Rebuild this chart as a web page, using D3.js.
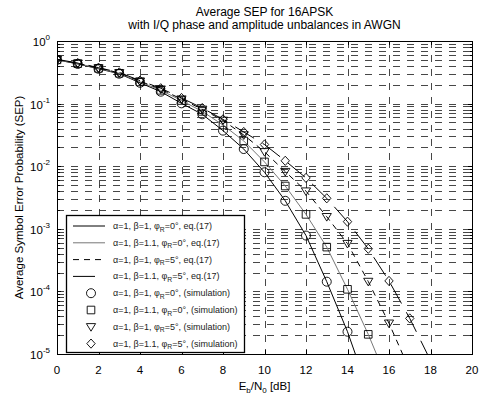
<!DOCTYPE html>
<html>
<head>
<meta charset="utf-8">
<script src="https://cdn.jsdelivr.net/npm/d3@7"></script>
<style>
    body { margin: 0; background: #fff; }
    svg { display: block; font-family: "Liberation Sans", Arial, sans-serif; }
</style>
</head>
<body>
<div id="chart"></div>
<script>
// Eb/N0 values (dB)
var ebno = [0, 1, 2, 3, 4, 5, 6, 7, 8, 9, 10, 11, 12, 13, 14, 15, 16, 17, 18];

// eq.(17) curves
var sepTheoryA = [0.50, 0.43, 0.36, 0.30, 0.215, 0.155, 0.101, 0.0675, 0.037, 0.0188, 0.0080, 0.0028, 0.00078, 1.43e-4, 2.27e-5, 2.6e-6];
var sepTheoryB = [0.50, 0.435, 0.365, 0.305, 0.222, 0.163, 0.112, 0.075, 0.0455, 0.0253, 0.0117, 0.00483, 0.0017, 5.1e-4, 1.08e-4, 2.06e-5, 3.3e-6];
var sepTheoryC = [0.505, 0.44, 0.37, 0.31, 0.228, 0.17, 0.118, 0.081, 0.054, 0.0315, 0.017, 0.0082, 0.0040, 0.00156, 5.8e-4, 1.44e-4, 3.1e-5, 5.5e-6];
var sepTheoryD = [0.51, 0.445, 0.375, 0.315, 0.233, 0.176, 0.123, 0.085, 0.056, 0.0352, 0.0222, 0.0122, 0.0065, 0.00307, 0.0013, 4.8e-4, 1.47e-4, 3.7e-5, 7.9e-6];

// simulation points
var sepSimA = [0.50, 0.43, 0.36, 0.30, 0.215, 0.155, 0.101, 0.0675, 0.037, 0.0188, 0.0080, 0.0028, 0.00078, 1.43e-4, 2.27e-5];
var sepSimB = [0.50, 0.435, 0.365, 0.305, 0.222, 0.163, 0.112, 0.075, 0.0455, 0.0253, 0.0117, 0.00483, 0.0017, 5.1e-4, 1.08e-4, 2.06e-5];
var sepSimC = [0.505, 0.44, 0.37, 0.31, 0.228, 0.17, 0.118, 0.081, 0.054, 0.0315, 0.017, 0.0082, 0.0040, 0.00156, 5.8e-4, 1.44e-4, 3.1e-5];
var sepSimD = [0.51, 0.445, 0.375, 0.315, 0.233, 0.176, 0.123, 0.085, 0.056, 0.0352, 0.0222, 0.0122, 0.0065, 0.00307, 0.0013, 4.8e-4, 1.47e-4, 3.7e-5];

var xTicks = [0, 2, 4, 6, 8, 10, 12, 14, 16, 18, 20];
var yDecades = [0, -1, -2, -3, -4, -5];

var theoryLabels = [
    ["α=1, β=1, ", "0", ", eq.(17)"],
    ["α=1, β=1.1, ", "0", ", eq.(17)"],
    ["α=1, β=1, ", "5", ", eq.(17)"],
    ["α=1, β=1.1, ", "5", ", eq.(17)"]
];
var simLabels = [
    ["α=1, β=1, ", "0", ", (simulation)"],
    ["α=1, β=1.1, ", "0", ", (simulation)"],
    ["α=1, β=1, ", "5", ", (simulation)"],
    ["α=1, β=1.1, ", "5", ", (simulation)"]
];

var W = 483, H = 398;
var margin = {top: 41, right: 11, bottom: 44, left: 57},
    width = W - margin.left - margin.right,
    height = H - margin.top - margin.bottom;

var svg = d3.select("#chart")
    .append("svg")
    .attr("width", W)
    .attr("height", H);

var x = d3.scaleLinear().domain([0, 20]).range([margin.left, margin.left + width]);
var y = d3.scaleLog().domain([1e-5, 1]).range([margin.top + height, margin.top]);

// grid (major + minor, dashed like matlab)
var gridVals = [];
for (var e = -5; e < 0; e++) {
    for (var k = 1; k <= 9; k++) {
        var v = k * Math.pow(10, e);
        if (v > 1e-5) gridVals.push(v);
    }
}
var grid = svg.append("g")
    .attr("stroke", "#333")
    .attr("stroke-width", 0.9)
    .attr("stroke-dasharray", "7,7")
    .attr("shape-rendering", "crispEdges");

grid.selectAll(".hgrid")
    .data(gridVals)
    .enter()
    .append("line")
    .attr("x1", x(0)).attr("x2", x(20))
    .attr("y1", function (d) { return Math.round(y(d)) + 0.5; })
    .attr("y2", function (d) { return Math.round(y(d)) + 0.5; });

grid.selectAll(".vgrid")
    .data(xTicks.slice(1, -1))
    .enter()
    .append("line")
    .attr("y1", y(1)).attr("y2", y(1e-5))
    .attr("x1", function (d) { return Math.round(x(d)) + 0.5; })
    .attr("x2", function (d) { return Math.round(x(d)) + 0.5; });

// ticks
var ticks = svg.append("g").attr("stroke", "#000").attr("stroke-width", 1).attr("shape-rendering", "crispEdges");
xTicks.forEach(function (t) {
    var xx = Math.round(x(t)) + 0.5;
    ticks.append("line").attr("x1", xx).attr("x2", xx).attr("y1", y(1e-5)).attr("y2", y(1e-5) - 4);
    ticks.append("line").attr("x1", xx).attr("x2", xx).attr("y1", y(1)).attr("y2", y(1) + 4);
});
gridVals.concat([1e-5, 1]).forEach(function (v) {
    var yy = Math.round(y(v)) + 0.5;
    var major = Math.abs(Math.log10(v) - Math.round(Math.log10(v))) < 1e-9;
    var len = major ? 4 : 2.5;
    ticks.append("line").attr("x1", x(0)).attr("x2", x(0) + len).attr("y1", yy).attr("y2", yy);
    ticks.append("line").attr("x1", x(20)).attr("x2", x(20) - len).attr("y1", yy).attr("y2", yy);
});

// curves
svg.append("clipPath").attr("id", "plotclip")
    .append("rect")
    .attr("x", margin.left).attr("y", margin.top)
    .attr("width", width).attr("height", height);

var lineStyles = [
    {color: "#000", dash: null},
    {color: "#777", dash: null},
    {color: "#000", dash: "6,5"},
    {color: "#000", dash: "22,10"}
];

var line = d3.line()
    .x(function (d, i) { return x(ebno[i]); })
    .y(function (d) { return y(d); });

var curves = svg.append("g").attr("clip-path", "url(#plotclip)");
[sepTheoryA, sepTheoryB, sepTheoryC, sepTheoryD].forEach(function (s, i) {
    curves.append("path")
        .datum(s)
        .attr("d", line)
        .attr("fill", "none")
        .attr("stroke", lineStyles[i].color)
        .attr("stroke-width", 1)
        .attr("stroke-dasharray", lineStyles[i].dash);
});

// marker shapes: 0 circle, 1 square, 2 triangle down, 3 diamond
function markerPath(type, cx, cy) {
    var p = d3.path();
    if (type === 0) {
        p.moveTo(cx + 4.5, cy);
        p.arc(cx, cy, 4.5, 0, 2 * Math.PI);
    } else if (type === 1) {
        p.rect(cx - 3.8, cy - 3.8, 7.6, 7.6);
    } else if (type === 2) {
        p.moveTo(cx - 4.6, cy - 3.2);
        p.lineTo(cx + 4.6, cy - 3.2);
        p.lineTo(cx, cy + 4.4);
        p.closePath();
    } else {
        p.moveTo(cx, cy - 4.6);
        p.lineTo(cx + 4.2, cy);
        p.lineTo(cx, cy + 4.6);
        p.lineTo(cx - 4.2, cy);
        p.closePath();
    }
    return p.toString();
}

var marks = svg.append("g").attr("clip-path", "url(#plotclip)");
[sepSimA, sepSimB, sepSimC, sepSimD].forEach(function (s, k) {
    marks.selectAll(".m" + k)
        .data(s)
        .enter()
        .append("path")
        .attr("d", function (d, i) { return markerPath(k, x(ebno[i]), y(d)); })
        .attr("fill", "none")
        .attr("stroke", "#000")
        .attr("stroke-width", 0.9);
});

// axes box
svg.append("rect")
    .attr("x", margin.left + 0.5).attr("y", margin.top + 0.5)
    .attr("width", width).attr("height", height)
    .attr("fill", "none").attr("stroke", "#000").attr("stroke-width", 1);

// tick labels
svg.selectAll(".xlab")
    .data(xTicks)
    .enter()
    .append("text")
    .attr("x", function (d) { return x(d); })
    .attr("y", y(1e-5) + 20)
    .attr("text-anchor", "middle")
    .attr("font-size", 11.5)
    .text(function (d) { return d; });

var yl = svg.selectAll(".ylab")
    .data(yDecades)
    .enter()
    .append("text")
    .attr("x", 50)
    .attr("y", function (d) { return y(Math.pow(10, d)) + 5; })
    .attr("text-anchor", "end")
    .attr("font-size", 11.5);
yl.append("tspan").text("10");
yl.append("tspan")
    .attr("dy", -6)
    .attr("font-size", 8)
    .text(function (d) { return d; });

// titles
svg.append("text")
    .attr("x", x(10)).attr("y", 16)
    .attr("text-anchor", "middle").attr("font-size", 12)
    .text("Average SEP for 16APSK");
svg.append("text")
    .attr("x", x(10)).attr("y", 29)
    .attr("text-anchor", "middle").attr("font-size", 12)
    .text("with I/Q phase and amplitude unbalances in AWGN");

svg.append("text")
    .attr("transform", "translate(23," + (margin.top + height / 2) + ") rotate(-90)")
    .attr("text-anchor", "middle").attr("font-size", 11.5)
    .text("Average Symbol Error Probability (SEP)");

var xt = svg.append("text")
    .attr("x", x(10)).attr("y", 390)
    .attr("text-anchor", "middle").attr("font-size", 11.5);
xt.append("tspan").text("E");
xt.append("tspan").attr("font-size", 8).attr("dy", 3).text("b");
xt.append("tspan").attr("dy", -3).text("/N");
xt.append("tspan").attr("font-size", 8).attr("dy", 3).text("0");
xt.append("tspan").attr("dy", -3).text(" [dB]");

// legend
var legend = svg.append("g");
legend.append("rect")
    .attr("x", 66.5).attr("y", 215.5)
    .attr("width", 178).attr("height", 137)
    .attr("fill", "#fff").attr("stroke", "#000").attr("stroke-width", 1.3);

function legendText(parts, ly) {
    var t = legend.append("text")
        .attr("x", 113).attr("y", ly + 3)
        .attr("font-size", 9)
        .attr("fill", "#222");
    t.append("tspan").text(parts[0] + "φ");
    t.append("tspan").attr("font-size", 6.8).attr("dy", 2.5).text("R");
    t.append("tspan").attr("dy", -2.5).text("=" + parts[1] + "°" + parts[2]);
}

theoryLabels.forEach(function (lab, i) {
    var ly = 226 + i * 16.8;
    legend.append("line")
        .attr("x1", 73).attr("x2", 105)
        .attr("y1", ly).attr("y2", ly)
        .attr("stroke", lineStyles[i].color)
        .attr("stroke-width", 1)
        .attr("stroke-dasharray", lineStyles[i].dash);
    legendText(lab, ly);
});
simLabels.forEach(function (lab, i) {
    var ly = 226 + (i + 4) * 16.8;
    legend.append("path")
        .attr("d", markerPath(i, 91, ly))
        .attr("fill", "none").attr("stroke", "#000").attr("stroke-width", 0.9);
    legendText(lab, ly);
});
</script>
</body>
</html>
